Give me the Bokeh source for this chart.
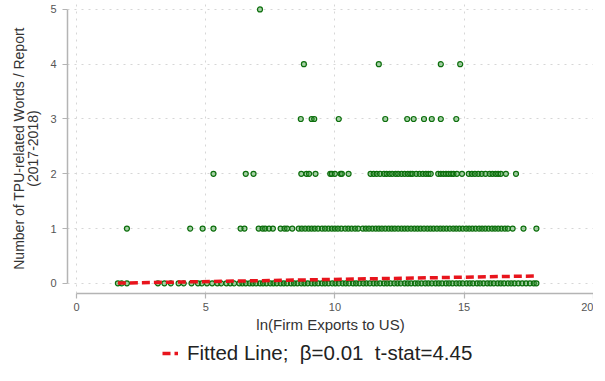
from bokeh.plotting import figure
from bokeh.layouts import column
from bokeh.models import Range1d, Legend, LegendItem, FixedTicker, ColumnDataSource
from bokeh.embed import file_html
from bokeh.resources import INLINE

# ---- data ----
row0_x = [1.6, 1.75, 1.95, 3.15, 3.4, 3.65, 3.95, 4.15, 4.45, 4.7, 4.85, 5.05, 5.25, 5.45, 5.6, 5.8, 5.95, 6.1,
          6.3, 6.42, 6.55, 6.7, 6.82, 6.95, 7.1, 7.22, 7.35, 7.5, 7.62, 7.75, 7.9, 8.02, 8.15, 8.3, 8.42, 8.55,
          8.7, 8.82, 8.95, 9.1, 9.22, 9.35, 9.5, 9.62, 9.75, 9.9, 10.02, 10.15, 10.3, 10.42, 10.55, 10.7, 10.82,
          10.95, 11.1, 11.22, 11.35, 11.5, 11.62, 11.75, 11.9, 12.02, 12.15, 12.3, 12.42, 12.55, 12.7, 12.82,
          12.95, 13.1, 13.22, 13.35, 13.5, 13.62, 13.75, 13.9, 14.02, 14.15, 14.3, 14.42, 14.55, 14.7, 14.82,
          14.95, 15.1, 15.22, 15.35, 15.5, 15.62, 15.75, 15.9, 16.02, 16.15, 16.3, 16.42, 16.55, 16.7, 16.82,
          16.95, 17.1, 17.25, 17.4, 17.55, 17.7, 17.8]
row1_x = [1.95, 4.4, 4.88, 5.3, 6.35, 6.5, 7.05, 7.2, 7.3, 7.45, 7.6, 7.9, 8.05, 8.15, 8.35, 8.6, 8.72, 8.85,
          8.98, 9.1, 9.22, 9.35, 9.5, 9.62, 9.75, 9.88, 10.0, 10.12, 10.25, 10.4, 10.52, 10.65, 10.78, 10.9,
          11.08, 11.2, 11.32, 11.45, 11.58, 11.7, 11.82, 11.95, 12.08, 12.2, 12.32, 12.45, 12.58, 12.7, 12.82,
          12.95, 13.08, 13.2, 13.32, 13.45, 13.58, 13.7, 13.82, 13.95, 14.08, 14.2, 14.32, 14.45, 14.58, 14.7,
          14.82, 14.95, 15.08, 15.2, 15.32, 15.45, 15.58, 15.7, 15.82, 15.95, 16.08, 16.2, 16.32, 16.45, 16.58,
          16.7, 16.88, 17.3, 17.8]
row2_x = [5.3, 6.55, 6.85, 8.7, 8.9, 9.0, 9.25, 9.82, 9.88, 10.0, 10.22, 10.27, 10.53, 11.38, 11.5, 11.62,
          11.75, 11.9, 12.0, 12.12, 12.22, 12.35, 12.45, 12.58, 12.7, 12.82, 12.92, 13.0, 13.15, 13.28, 13.4,
          13.52, 13.62, 13.71, 14.0, 14.1, 14.2, 14.3, 14.4, 14.5, 14.59, 14.72, 14.92, 15.18, 15.3, 15.42,
          15.55, 15.68, 15.83, 15.99, 16.1, 16.22, 16.32, 16.42, 16.62, 17.01]
row3_x = [8.68, 9.1, 9.2, 10.15, 11.95, 12.8, 13.05, 13.45, 13.75, 14.1, 14.7]
row4_x = [8.8, 11.7, 14.1, 14.85]
row5_x = [7.1]
row_values = [0, 1, 2, 3, 4, 5]

fit_x = [1.6, 17.8]
fit_y = [0.005, 0.135]

x_ticks = [0, 5, 10, 15, 20]
y_ticks = [0, 1, 2, 3, 4, 5]
legend_label = "Fitted Line;  \u03b2=0.01  t-stat=4.45"

# ---- build scatter table ----
rows = [row0_x, row1_x, row2_x, row3_x, row4_x, row5_x]
xs, ys = [], []
for val, r in zip(row_values, rows):
    xs.extend(r)
    ys.extend([val] * len(r))
src = ColumnDataSource(dict(x=xs, y=ys))

RED = "#e8141c"

p = figure(width=593, height=337, output_backend="svg", toolbar_location=None,
           x_range=Range1d(-0.35, 20.01), y_range=Range1d(-0.185, 5.108),
           min_border_left=67, min_border_right=0, min_border_top=3, min_border_bottom=44)
p.outline_line_color = None

p.scatter("x", "y", source=src, size=5, marker="circle",
          line_color="#0c6e0c", fill_color="#3a9a3a", fill_alpha=0.45, line_width=1.2)

fit = p.line(fit_x, fit_y, line_color=RED, line_width=3.5, line_dash="8 4")

for ax, ticks in ((p.xaxis, x_ticks), (p.yaxis, y_ticks)):
    ax.ticker = FixedTicker(ticks=ticks)
    ax.minor_tick_line_color = None
    ax.major_tick_in = 0
    ax.major_tick_out = 5
    ax.axis_line_color = "#b4b4b4"
    ax.axis_line_width = 1.5
    ax.major_tick_line_color = "#b4b4b4"
    ax.major_tick_line_width = 1.2
    ax.major_label_text_font = "Liberation Sans"
    ax.major_label_text_font_size = "11px"
    ax.major_label_text_color = "#555555"
    ax.axis_label_text_font = "Liberation Sans"
    ax.axis_label_text_font_style = "normal"
    ax.axis_label_text_color = "#333333"

p.xaxis.bounds = (0, 20)
p.yaxis.bounds = (0, 5)
p.yaxis.major_label_orientation = "horizontal"
p.xaxis.axis_label = "ln(Firm Exports to US)"
p.yaxis.axis_label = "Number of TPU-related Words / Report\n(2017-2018)"
p.xaxis.axis_label_text_font_size = "15px"
p.yaxis.axis_label_text_font_size = "14px"
p.yaxis.axis_label_text_line_height = 0.92
p.xaxis.axis_label_standoff = 2
p.yaxis.axis_label_standoff = 6
p.xaxis.major_label_standoff = 4
p.yaxis.major_label_standoff = 6

for g in (p.xgrid, p.ygrid):
    g.grid_line_color = "#d6d6d6"
    g.grid_line_dash = "2 5"
    g.grid_line_width = 1
p.xgrid.ticker = FixedTicker(ticks=x_ticks)
p.ygrid.ticker = FixedTicker(ticks=y_ticks)

# ---- legend strip below the chart (frame aligned with the chart's frame) ----
lg = figure(width=593, height=28, output_backend="svg", toolbar_location=None,
            x_axis_location=None, y_axis_location=None,
            x_range=Range1d(0, 1), y_range=Range1d(0, 1),
            min_border_left=67, min_border_right=0, min_border_top=0, min_border_bottom=0)
lg.outline_line_color = None
lg.xgrid.visible = False
lg.ygrid.visible = False
key = lg.line(fit_x, fit_y, line_color=RED, line_width=3.5, line_dash="8 4")

legend = Legend(items=[LegendItem(label=legend_label, renderers=[key])],
                location=(95, 0), orientation="horizontal",
                border_line_color=None, background_fill_alpha=0,
                label_text_font="Liberation Sans", label_text_font_size="20.5px",
                label_text_color="#222222", glyph_width=16, glyph_height=16,
                label_standoff=9, padding=0, margin=0)
lg.add_layout(legend, "center")

layout = column(p, lg, spacing=0)
open("out.html", "w").write(file_html(layout, INLINE))
